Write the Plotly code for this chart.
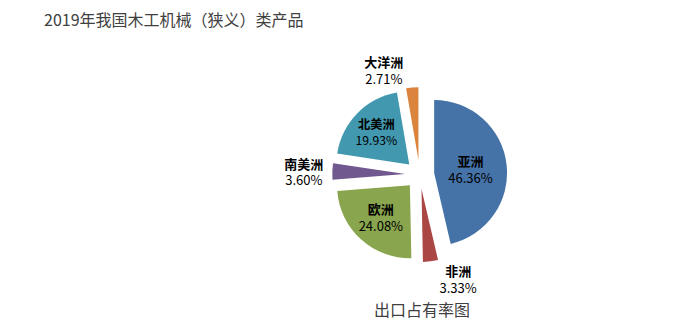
import plotly.graph_objects as go

labels = ["亚洲", "非洲", "欧洲", "南美洲", "北美洲", "大洋洲"]
values = [46.36, 3.33, 24.08, 3.60, 19.93, 2.71]
colors = ["#4572A7", "#AA4643", "#89A54E", "#71588F", "#4198AF", "#DB843D"]
positions = ["inside", "outside", "inside", "outside", "inside", "outside"]

title_text = "2019年我国木工机械（狭义）类产品"
subtitle_text = "出口占有率图"

font_cjk = "Noto Sans CJK SC"

fig = go.Figure(go.Pie(
    labels=labels,
    values=values,
    sort=False,
    direction="clockwise",
    rotation=0,
    pull=[0.2] * len(values),
    marker=dict(colors=colors, line=dict(width=0)),
    text=[f"{v:.2f}%" for v in values],
    texttemplate="<b>%{label}</b><br>%{text}",
    textposition=positions,
    textfont=dict(family=font_cjk, size=13, color="#000000"),
    insidetextorientation="horizontal",
    showlegend=False,
    hoverinfo="label+text",
    domain=dict(x=[0.476, 0.730], y=[0.206, 0.736]),
))

fig.update_layout(
    width=696, height=330,
    margin=dict(l=0, r=0, t=0, b=0),
    paper_bgcolor="white",
    plot_bgcolor="white",
    annotations=[
        dict(text=title_text, x=42 / 696, y=1 - 19 / 330, xref="paper", yref="paper",
             xanchor="left", yanchor="middle", showarrow=False,
             font=dict(family=font_cjk, size=16, color="#404040")),
        dict(text=subtitle_text, x=422 / 696, y=1 - 309 / 330, xref="paper", yref="paper",
             xanchor="center", yanchor="middle", showarrow=False,
             font=dict(family=font_cjk, size=16, color="#404040")),
    ],
)

fig.write_html("out.html")
